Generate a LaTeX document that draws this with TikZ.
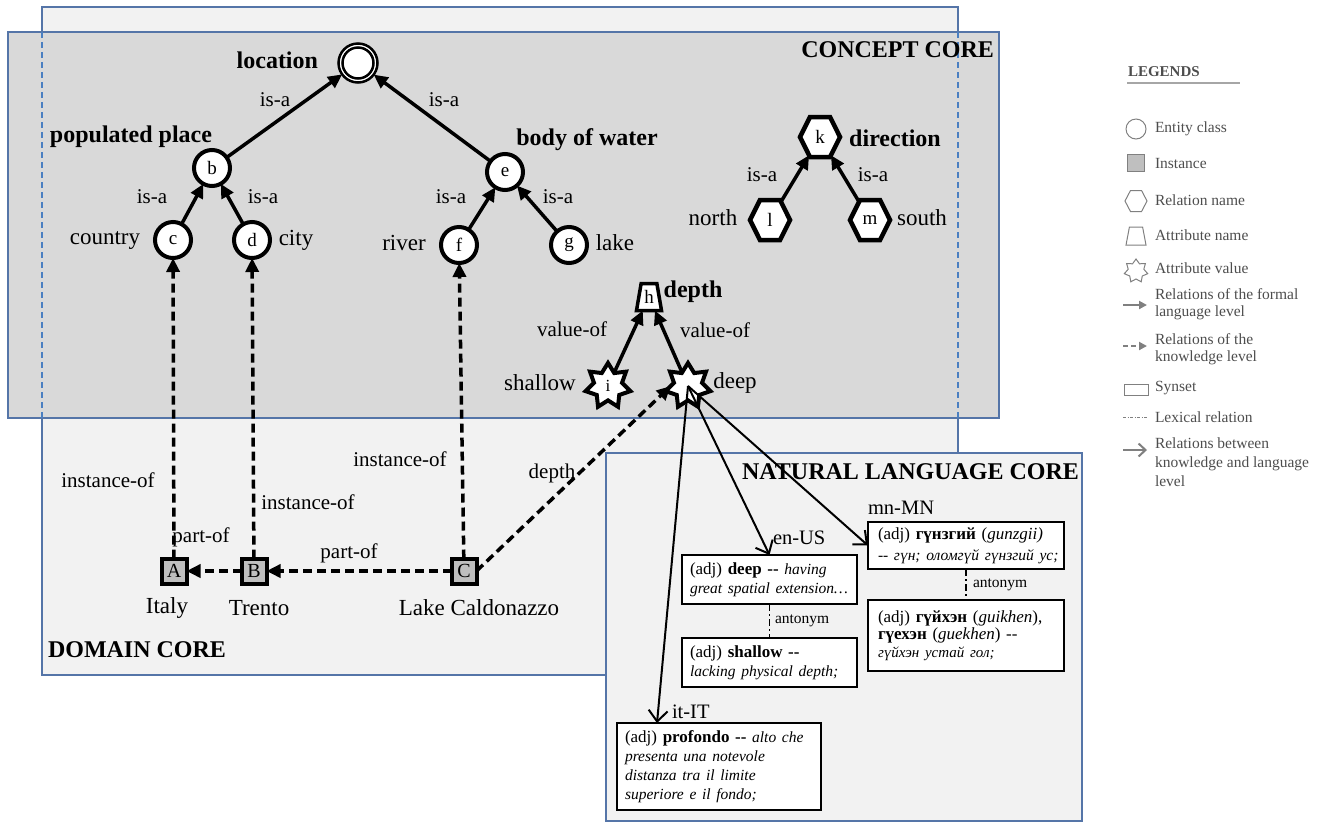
\documentclass[tikz,border=0pt]{standalone}
\usepackage{fontspec}
\setmainfont{Liberation Serif}
\usetikzlibrary{arrows.meta,shapes.geometric,shapes.symbols,calc}

\definecolor{boxblue}{HTML}{5575A8}
\definecolor{dashblue}{HTML}{4A7FC1}
\definecolor{conceptfill}{HTML}{D9D9D9}
\definecolor{lightfill}{HTML}{F2F2F2}
\definecolor{instfill}{HTML}{BFBFBF}
\definecolor{legtext}{HTML}{4D4D4D}
\definecolor{legshape}{HTML}{808080}
\definecolor{legrule}{HTML}{A6A6A6}

\newcommand\dbldash{-\kern0pt-}
\newcommand\glossfont{\fontsize{15.5}{19}\selectfont\itshape}

\tikzset{
  every node/.style={inner sep=0pt, outer sep=0pt},
  boxline/.style={draw=boxblue, line width=1.1pt},
  cls/.style={circle, draw, line width=4pt, fill=white, minimum size=36pt,
    font=\fontsize{19}{21}\selectfont},
  clsdouble/.style={circle, draw, line width=2.5pt, fill=white, minimum size=39pt},
  inst/.style={rectangle, draw, line width=4pt, fill=instfill, minimum size=25pt,
    font=\fontsize{20}{22}\selectfont},
  rel/.style={signal, signal to=east and west, signal pointer angle=127, draw,
    line width=4.5pt, fill=white, minimum width=40pt, minimum height=40pt,
    font=\fontsize{19}{21}\selectfont},
  attr/.style={trapezium, trapezium left angle=78, trapezium right angle=78,
    trapezium stretches=true, draw, line width=3.5pt, fill=white,
    minimum width=25pt, minimum height=27pt, font=\fontsize{19}{21}\selectfont},
  val/.style={star, star points=7, star point ratio=1.6, draw, line width=4pt,
    fill=white, minimum size=46pt, font=\fontsize{17}{19}\selectfont},
  plainlbl/.style={font=\fontsize{23}{25}\selectfont},
  boldlbl/.style={font=\bfseries\fontsize{24}{26}\selectfont},
  elabel/.style={font=\fontsize{21}{23}\selectfont},
  heading/.style={font=\bfseries\fontsize{24}{26}\selectfont},
  langlbl/.style={anchor=west, font=\fontsize{20.5}{22}\selectfont},
  formal/.style={line width=3.5pt, -{Triangle[length=14pt,width=13pt]}},
  know/.style={formal, dash pattern=on 9pt off 5pt},
  nl/.style={line width=2pt, -{Straight Barb[length=11pt,width=19pt]}},
  lex/.style={line width=1.8pt, dash pattern=on 7pt off 3pt on 2pt off 3pt},
  lexlbl/.style={anchor=west, font=\fontsize{15.5}{17}\selectfont},
  synset/.style={draw, line width=1.2pt, fill=white, anchor=north west,
    align=left, inner ysep=4pt, font=\fontsize{17}{19}\selectfont},
  legtxt/.style={anchor=west, text=legtext, align=left,
    font=\fontsize{15.5}{16.5}\selectfont},
  legline/.style={draw=legshape, line width=1pt}
}

\begin{document}
\begin{tikzpicture}[x=1pt,y=-1pt]
\useasboundingbox (0,0) rectangle (1327,823);

% ---------- the three cores ----------
\draw[boxline, fill=lightfill] (42,7) rectangle (958,675);
\draw[boxline, fill=conceptfill] (8,32) rectangle (999,418);
\draw[dashblue, line width=1.4pt, dash pattern=on 6pt off 4pt]
  (42,32) -- (42,418) (958,32) -- (958,418);
\draw[boxline, fill=lightfill] (606,453) rectangle (1082,821);

\node[heading, anchor=east] (hconcept) at (994,50) {CONCEPT CORE};
\node[heading, anchor=west] (hdomain) at (48,650) {DOMAIN CORE};
\node[heading, anchor=east] (hnatural) at (1079,472) {NATURAL LANGUAGE CORE};

% ---------- concept core ----------
\node[clsdouble] (loc) at (358,63) {};
\draw[line width=2.5pt] (loc.center) circle (15.5pt);
\node[boldlbl, anchor=east] (locname) at (318,60) {location};

\node[cls] (b) at (212,168) {b};
\node[boldlbl] (bname) at (131,137) {populated place};
\node[cls] (e) at (505,172) {e};
\node[boldlbl] (ename) at (587,140) {body of water};
\node[cls] (c) at (173,240) {c};
\node[plainlbl] (cname) at (105,240) {country};
\node[cls] (d) at (252,240) {d};
\node[plainlbl] (dname) at (296,240) {city};
\node[cls] (f) at (459,245) {f};
\node[plainlbl] (fname) at (404,243) {river};
\node[cls] (g) at (569,245) {g};
\node[plainlbl] (gname) at (615,243) {lake};

\node[rel] (k) at (820,137) {k};
\node[boldlbl] (kname) at (895,138) {direction};
\node[rel] (l) at (770,220) {l};
\node[plainlbl] (lname) at (713,218) {north};
\node[rel] (m) at (870,220) {m};
\node[plainlbl] (mname) at (922,218) {south};

\node[attr] (h) at (649,297) {h};
\node[boldlbl] (hname) at (693,292) {depth};
\node[val] (i) at (608,386) {i};
\node[plainlbl] (iname) at (540,383) {shallow};
\node[val] (deep) at (688,386) {};
\node[plainlbl] (deepname) at (735,383) {deep};

\draw[formal] (b) -- (loc);
\draw[formal] (e) -- (loc);
\draw[formal] (c) -- (b);
\draw[formal] (d) -- (b);
\draw[formal] (f) -- (e);
\draw[formal] (g) -- (e);
\draw[formal] (l) -- (k);
\draw[formal] (m) -- (k);
\draw[formal] (i) -- (h);
\draw[formal] (deep) -- (h);

\node[elabel] (isa1) at (275,100) {is-a};
\node[elabel] (isa2) at (444,100) {is-a};
\node[elabel] (isa3) at (152,197) {is-a};
\node[elabel] (isa4) at (263,197) {is-a};
\node[elabel] (isa5) at (451,197) {is-a};
\node[elabel] (isa6) at (558,197) {is-a};
\node[elabel] (isa7) at (762,175) {is-a};
\node[elabel] (isa8) at (873,175) {is-a};
\node[elabel] (val1) at (572,329) {value-of};
\node[elabel] (val2) at (715,330) {value-of};

% ---------- domain core ----------
\node[inst] (A) at (174,571) {A};
\node[plainlbl] (Aname) at (167,608) {Italy};
\node[inst] (B) at (254,571) {B};
\node[plainlbl] (Bname) at (259,608) {Trento};
\node[inst] (C) at (464,571) {C};
\node[plainlbl] (Cname) at (479,608) {Lake Caldonazzo};

\draw[know] (A) -- (c);
\draw[know] (B) -- (d);
\draw[know] (C) -- (f);
\draw[know] (B) -- (A);
\draw[know] (C) -- (B);
\draw[know] (C.east) -- (deep.west);

\node[elabel] (inst1) at (108,480) {instance-of};
\node[elabel] (inst2) at (308,502) {instance-of};
\node[elabel] (inst3) at (400,459) {instance-of};
\node[elabel] (dep) at (552,473) {depth};
\node[elabel] (part1) at (201,537) {part-of};
\node[elabel] (part2) at (349,553) {part-of};

% ---------- natural language core ----------
\node[synset, text width=159pt, inner xsep=8pt, minimum height=49pt] (en) at (682,555)
  {\mbox{(adj) \textbf{deep \dbldash} {\glossfont having}}\\
   \mbox{\glossfont great spatial extension…}};
\node[synset, text width=159pt, inner xsep=8pt, minimum height=49pt] (sh) at (682,638)
  {\mbox{(adj) \textbf{shallow \dbldash}}\\
   \mbox{\glossfont lacking physical depth;}};
\node[synset, text width=176pt, inner xsep=10pt, minimum height=47pt,
  font=\fontsize{17}{21}\selectfont] (mn) at (868,522)
  {\mbox{(adj) \textbf{гүнзгий} (\textit{gunzgii)}}\\
   \mbox{\glossfont \dbldash{} гүн; оломгүй гүнзгий ус;}};
\node[synset, text width=176pt, inner xsep=10pt, minimum height=71pt,
  font=\fontsize{17}{17.5}\selectfont] (mnant) at (868,600)
  {\mbox{(adj) \textbf{гүйхэн} (\textit{guikhen}),}\\
   \mbox{\textbf{гүехэн} (\textit{guekhen}) \dbldash}\\
   \mbox{\fontsize{15}{17}\selectfont\itshape гүйхэн устай гол;}};
\node[synset, text width=188pt, inner xsep=8pt, minimum height=87pt] (it) at (617,723)
  {\mbox{(adj) \textbf{profondo \dbldash} {\glossfont alto che}}\\
   \mbox{\glossfont presenta una notevole}\\
   \mbox{\glossfont distanza tra il limite}\\
   \mbox{\glossfont superiore e il fondo;}};

\node[langlbl] (enlang) at (773,538) {en-US};
\node[langlbl] (mnlang) at (868,508) {mn-MN};
\node[langlbl] (itlang) at (672,712) {it-IT};

\draw[lex] (en) -- (sh);
\node[lexlbl] (ant1) at (775,621) {antonym};
\draw[lex] (mn.south -| mnant.north) -- (mnant.north);
\node[lexlbl] (ant2) at (973,585) {antonym};

\draw[nl] (deep.center) -- (en.north);
\draw[nl] (deep.center) -- (mn.west);
\draw[nl] (deep.center) -- ([xshift=40pt]it.north west);

% ---------- legend ----------
\node[anchor=west, text=legtext, font=\bfseries\fontsize{15}{17}\selectfont] (legtitle) at (1128,72) {LEGENDS};
\coordinate (ruleL) at (1127,83);
\coordinate (ruleR) at (1240,83);
\draw[legrule, line width=1.5pt] (ruleL) -- (ruleR);

\node[circle, legline, minimum size=20pt] (lgc) at (1136,129) {};
\node[legtxt] (lgct) at (1155,129) {Entity class};
\node[rectangle, legline, fill=instfill, minimum size=17pt] (lgs) at (1136,163) {};
\node[legtxt] (lgst) at (1155,163) {Instance};
\node[signal, signal to=east and west, signal pointer angle=125, legline,
  inner sep=2pt, minimum width=22pt, minimum height=21pt] (lgh) at (1136,201) {};
\node[legtxt] (lght) at (1155,200) {Relation name};
\node[trapezium, trapezium left angle=78, trapezium right angle=78,
  trapezium stretches=true, legline, inner sep=2pt,
  minimum width=20pt, minimum height=18pt] (lgt) at (1136,236) {\phantom{h}};
\node[legtxt] (lgtt) at (1155,235) {Attribute name};
\node[star, star points=7, star point ratio=1.5, legline, inner sep=2pt,
  minimum size=24pt] (lgv) at (1136,271) {};
\node[legtxt] (lgvt) at (1155,268) {Attribute value};

\coordinate (fa) at (1123,305); \coordinate (fb) at (1147,305);
\draw[legshape, line width=2.5pt, -{Triangle[length=8pt,width=8pt]}] (fa) -- (fb);
\node[legtxt] (lgft) at (1155,304) {Relations of the formal\\language level};
\coordinate (ka) at (1123,346); \coordinate (kb) at (1147,346);
\draw[legshape, line width=2.5pt, dash pattern=on 5pt off 3pt, -{Triangle[length=8pt,width=8pt]}] (ka) -- (kb);
\node[legtxt] (lgkt) at (1155,349) {Relations of the\\knowledge level};
\node[rectangle, legline, minimum width=24pt, minimum height=11pt] (lgsy) at (1136,390) {};
\node[legtxt] (lgsyt) at (1155,388) {Synset};
\coordinate (xa) at (1123,417); \coordinate (xb) at (1148,417);
\draw[legshape, line width=0.8pt, dash pattern=on 3pt off 1.5pt on 1pt off 1.5pt] (xa) -- (xb);
\node[legtxt] (lgxt) at (1155,417) {Lexical relation};
\coordinate (na) at (1123,450); \coordinate (nb) at (1147,450);
\draw[legshape, line width=2pt, -{Straight Barb[length=7pt,width=13pt]}] (na) -- (nb);
\node[legtxt, font=\fontsize{15.5}{19}\selectfont] (lgnt) at (1155,462) {Relations between\\knowledge and language\\level};
\end{tikzpicture}
\end{document}
